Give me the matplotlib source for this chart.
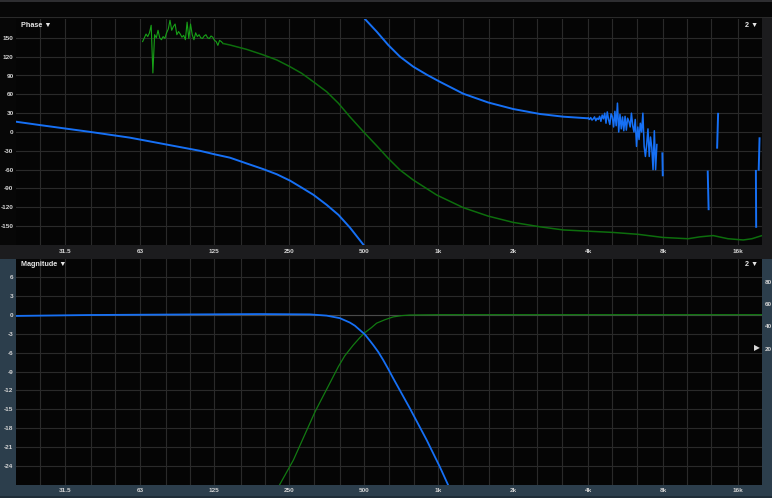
import numpy as np
import matplotlib.pyplot as plt
from matplotlib.patches import Rectangle

plt.rcParams['font.family'] = ['Liberation Sans', 'DejaVu Sans']

W, H = 772, 498

# x axis labels / grid (Hz)
tick_freqs = [31.5, 63, 125, 250, 500, 1000, 2000, 4000, 8000, 16000]
tick_labels = ['31.5', '63', '125', '250', '500', '1k', '2k', '4k', '8k', '16k']
third_octaves = [25, 31.5, 40, 50, 63, 80, 100, 125, 160, 200, 250, 315, 400, 500,
                 630, 800, 1000, 1250, 1600, 2000, 2500, 3150, 4000, 5000, 6300,
                 8000, 10000, 12500, 16000]
phase_ticks = [150, 120, 90, 60, 30, 0, -30, -60, -90, -120, -150]
mag_ticks = [6, 3, 0, -3, -6, -9, -12, -15, -18, -21, -24]
right_labels = ['80', '60', '40', '20']

# phase, blue (low-pass), first branch
blue_ph_f = [20, 25, 40, 57.4, 110, 126, 145, 169, 197, 224, 253, 282, 314, 355, 396,
             440, 500, 510]
blue_ph_v = [16.4, 11, 0, -9, -30, -35.6, -40.9, -50, -59, -67.4, -77.5, -88.7, -100,
             -116, -132, -152, -180, -186]
# phase, blue, wrapped branch
blue_ph2_f = [500, 506, 564, 628, 700, 792, 900, 1013, 1258, 1585, 1998, 2559, 3175, 4000]
blue_ph2_v = [186, 180, 160, 138.6, 120, 104, 91, 80, 61, 47, 36.6, 28.7, 24.4, 21.8]
# phase, blue, noisy part 4k..7.5k
blue_noise_range = (4000, 7555)
blue_noise_v = [22, 20, 23, 19, 21, 24, 18, 22, 20, 25,
                17, 27, 21, 30, 14, 32, 20, 12, 29, 24,
                8, 33, 10, 46, 0, 28, 5, 24, 2, 25,
                3, 22, 17, 8, 30, 10, 0, 20, -23, 8,
                -12, 14, 0, 30, -23, -39, -20, 5, -39, -8, -25, -60, 2, -60, -20]
# phase, blue, isolated fragments (f0, v0, f1, v1)
blue_frags = [(7950, -34, 7980, -69),
              (12100, -63, 12200, -123),
              (13320, 29, 13200, -25),
              (18900, -62, 18950, -151),
              (19550, -10, 19400, -60)]

# phase, green (high-pass), noisy part 64..136 Hz
green_noise_range = (64.6, 136)
green_noise_v = [144, 150, 156, 152, 158, 170, 94, 155, 150, 162, 150, 147, 152, 149,
                 158, 164, 178, 162, 168, 172, 155, 160, 156, 151, 154, 147, 175, 149,
                 172, 155, 147, 158, 152, 155, 150, 149, 153, 155, 150, 149, 153, 151,
                 146, 144, 138, 146, 144, 141]
green_ph_f = [136, 145, 169, 197, 224, 253, 282, 314, 355, 396, 440, 499, 564, 628, 700,
              792, 983, 1258, 1585, 1998, 2559, 3175, 4000, 5042, 6355, 8010, 10096,
              11257, 12727, 14590, 16806, 18219, 20000]
green_ph_v = [141, 138.6, 131.7, 123, 114.7, 104, 93.4, 80, 64.2, 45.7, 24.4, 0.5,
              -21.8, -42, -60.5, -76.5, -100.3, -120.5, -134, -144, -151, -156, -158,
              -160, -163, -168, -170, -167, -165, -170, -172, -170, -165]

# magnitude (dB)
blue_mag_f = [20, 40, 110, 191, 304, 355, 401, 440, 461, 483, 506, 530, 547, 573, 600,
              628, 658, 768, 896, 1013, 1094, 1150]
blue_mag_v = [-0.15, 0, 0.1, 0.15, 0.1, -0.1, -0.5, -1.2, -1.7, -2.4, -3.1, -4.1, -4.8,
              -5.9, -7.2, -8.6, -10.1, -14.9, -19.9, -24.2, -27.1, -29.5]
green_mag_f = [220, 230, 261, 319, 396, 420, 454, 483, 506, 538, 564, 609, 658, 711,
               768, 1013, 20000]
green_mag_v = [-29, -27, -23.1, -15.4, -8.2, -6.5, -4.8, -3.6, -2.8, -2.0, -1.3, -0.75,
               -0.3, -0.1, 0, 0.05, 0.05]

BLUE = '#1670f5'
GREEN = '#0d6e0d'
GREEN_N = '#17a017'
GRID = '#2a2a2a'
TXT = '#d4d4d4'
SLATE = '#2c3e4c'

fig = plt.figure(figsize=(W / 100, H / 100), dpi=100)
fig.patch.set_facecolor('#070707')

bg = fig.add_axes([0, 0, 1, 1])
bg.set_xlim(0, W)
bg.set_ylim(H, 0)
bg.axis('off')


def box(x0, y0, w, h, c):
    bg.add_patch(Rectangle((x0, y0), w, h, color=c, lw=0))


box(0, 0, W, 2, '#2e2e31')
box(0, 17, W, 1.2, '#2a2a2a')
box(0, 245, W, 13.5, '#1c1c1e')
box(762, 18, 10, 240, '#1c1c1e')
box(0, 258.5, 16, H, SLATE)
box(762, 258.5, 10, H, SLATE)
box(0, 484.5, W, 14, SLATE)
box(0, 495.5, W, 3, '#1f2d38')


def setup(ax, ylo, yhi, yt, ylabels):
    ax.set_facecolor('#050505')
    ax.set_xscale('log')
    ax.set_xlim(20, 20000)
    ax.set_ylim(ylo, yhi)
    for s in ax.spines.values():
        s.set_visible(False)
    for f in third_octaves:
        ax.axvline(f, color=GRID, lw=0.8, zorder=0)
    for v in yt:
        ax.axhline(v, color=GRID, lw=0.8, zorder=0)
    ax.set_xticks(tick_freqs)
    ax.set_xticklabels(tick_labels)
    ax.minorticks_off()
    ax.set_yticks(yt)
    ax.set_yticklabels(ylabels)
    ax.tick_params(length=0, labelsize=4.6, labelcolor=TXT)
    for lab in ax.get_xticklabels() + ax.get_yticklabels():
        lab.set_fontweight('bold')
    ax.tick_params(axis='x', pad=2.8)
    ax.tick_params(axis='y', pad=1.8)


ax_p = fig.add_axes([16 / W, 1 - 245 / H, 746 / W, 226 / H])
setup(ax_p, -180, 180, phase_ticks, [str(v) for v in phase_ticks])

ax_m = fig.add_axes([16 / W, 1 - 484.5 / H, 746 / W, 226 / H])
setup(ax_m, -27, 9, mag_ticks, [str(v) for v in mag_ticks])
ax_m.axhline(0, color='#4a4a4a', lw=0.8, zorder=0)

# phase curves
ax_p.plot(np.geomspace(*green_noise_range, len(green_noise_v)), green_noise_v,
          color=GREEN_N, lw=0.8)
ax_p.plot(green_ph_f, green_ph_v, color=GREEN, lw=1.1)
ax_p.plot(blue_ph_f, blue_ph_v, color=BLUE, lw=1.4)
ax_p.plot(blue_ph2_f, blue_ph2_v, color=BLUE, lw=1.4)
ax_p.plot(np.geomspace(*blue_noise_range, len(blue_noise_v)), blue_noise_v,
          color=BLUE, lw=1.1)
for f0, v0, f1, v1 in blue_frags:
    ax_p.plot([f0, f1], [v0, v1], color=BLUE, lw=1.4)

# magnitude curves
ax_m.plot(green_mag_f, green_mag_v, color='#127a12', lw=0.9)
ax_m.plot(blue_mag_f, blue_mag_v, color=BLUE, lw=1.3)


def ftext(x, y, s, **kw):
    fig.text(x / W, 1 - y / H, s, va='center', **kw)


ftext(21, 25, 'Phase \u25BC', color='#e6e6e6', fontsize=5.2, fontweight='bold')
ftext(21, 265, 'Magnitude \u25BC', color='#e6e6e6', fontsize=5.2, fontweight='bold')
ftext(758, 25, '2 \u25BC', color='#e6e6e6', fontsize=5.2, ha='right', fontweight='bold')
ftext(758, 264, '2 \u25BC', color='#e6e6e6', fontsize=5.2, ha='right', fontweight='bold')
for lab, y in zip(right_labels, [282, 305, 327, 349]):
    ftext(764.5, y, lab, color=TXT, fontsize=4.6, fontweight='bold')
ftext(757, 349, '\u25B6', color='#d8d8d8', fontsize=5.5, ha='center')

fig.savefig('out.png', dpi=100, facecolor=fig.get_facecolor())
